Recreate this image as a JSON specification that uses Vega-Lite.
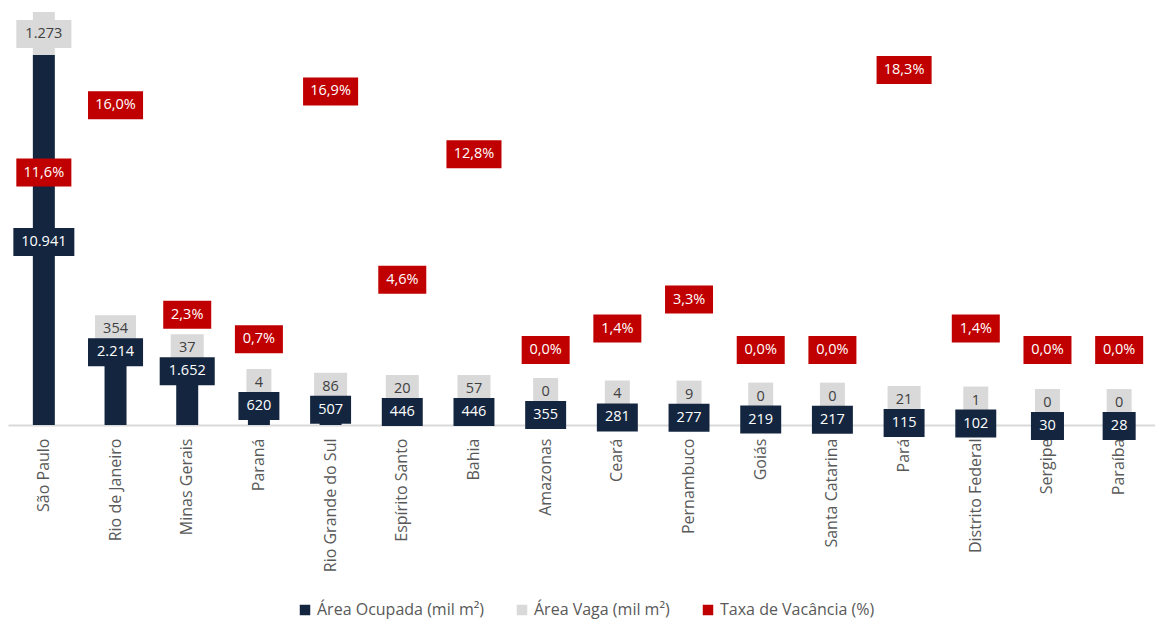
{
  "$schema": "https://vega.github.io/schema/vega-lite/v6.json",
  "width": 1147,
  "height": 420,
  "padding": {"left": 8, "top": 5, "right": 0, "bottom": 46},
  "background": "white",
  "config": {
    "view": {"stroke": null},
    "font": "Open Sans",
    "locale": {"number": {"decimal": ",", "thousands": ".", "grouping": [3], "currency": ["R$", ""]}}
  },
  "data": {
    "values": [
      {"estado": "São Paulo", "ocupada": 10941, "vaga": 1273, "taxa": 0.116},
      {"estado": "Rio de Janeiro", "ocupada": 2214, "vaga": 354, "taxa": 0.160},
      {"estado": "Minas Gerais", "ocupada": 1652, "vaga": 37, "taxa": 0.023},
      {"estado": "Paraná", "ocupada": 620, "vaga": 4, "taxa": 0.007},
      {"estado": "Rio Grande do Sul", "ocupada": 507, "vaga": 86, "taxa": 0.169},
      {"estado": "Espírito Santo", "ocupada": 446, "vaga": 20, "taxa": 0.046},
      {"estado": "Bahia", "ocupada": 446, "vaga": 57, "taxa": 0.128},
      {"estado": "Amazonas", "ocupada": 355, "vaga": 0, "taxa": 0.0},
      {"estado": "Ceará", "ocupada": 281, "vaga": 4, "taxa": 0.014},
      {"estado": "Pernambuco", "ocupada": 277, "vaga": 9, "taxa": 0.033},
      {"estado": "Goiás", "ocupada": 219, "vaga": 0, "taxa": 0.0},
      {"estado": "Santa Catarina", "ocupada": 217, "vaga": 0, "taxa": 0.0},
      {"estado": "Pará", "ocupada": 115, "vaga": 21, "taxa": 0.183},
      {"estado": "Distrito Federal", "ocupada": 102, "vaga": 1, "taxa": 0.014},
      {"estado": "Sergipe", "ocupada": 30, "vaga": 0, "taxa": 0.0},
      {"estado": "Paraíba", "ocupada": 28, "vaga": 0, "taxa": 0.0}
    ]
  },
  "transform": [
    {"calculate": "length(format(datum.ocupada, ',.0f'))", "as": "nO"},
    {"calculate": "length(format(datum.vaga, ',.0f'))", "as": "nV"},
    {"calculate": "length(format(datum.taxa, '.1%'))", "as": "nT"},
    {"calculate": "datum.ocupada > 5000 ? datum.ocupada / 2 : datum.ocupada", "as": "yO"}
  ],
  "encoding": {
    "x": {
      "field": "estado",
      "type": "nominal",
      "sort": null,
      "scale": {"paddingInner": 0, "paddingOuter": 0},
      "axis": {
        "title": null,
        "labelAngle": -90,
        "labelFont": "Open Sans",
        "labelFontSize": 16,
        "labelColor": "#595959",
        "labelPadding": 13,
        "ticks": false,
        "domainColor": "#D9D9D9",
        "domainWidth": 2,
        "grid": false
      }
    }
  },
  "layer": [
    {
      "transform": [{"fold": ["ocupada", "vaga"], "as": ["serie", "valor"]}],
      "mark": {"type": "bar", "width": 22},
      "encoding": {
        "y": {"field": "valor", "type": "quantitative", "stack": "zero", "scale": {"domain": [0, 12420], "nice": false, "zero": false}, "axis": null},
        "order": {"field": "serie", "type": "nominal"},
        "color": {
          "field": "serie",
          "type": "nominal",
          "scale": {"domain": ["ocupada", "vaga", "taxa"], "range": ["#14263F", "#D9D9D9", "#C00000"]},
          "legend": {
            "title": null,
            "orient": "none",
            "direction": "horizontal",
            "legendX": 289,
            "legendY": 597,
            "symbolType": "square",
            "symbolSize": 110,
            "symbolStrokeWidth": 0,
            "labelFont": "Open Sans",
            "labelFontSize": 16,
            "labelColor": "#595959",
            "labelOffset": 4,
            "columnPadding": 30,
            "labelLimit": 300,
            "labelExpr": "datum.label == 'ocupada' ? 'Área Ocupada (mil m²)' : datum.label == 'vaga' ? 'Área Vaga (mil m²)' : 'Taxa de Vacância (%)'"
          }
        }
      }
    },
    {
      "mark": {"type": "point", "filled": true, "fill": "#D9D9D9", "opacity": 1, "strokeWidth": 0, "size": 4096, "yOffset": -21},
      "encoding": {
        "y": {"field": "ocupada", "type": "quantitative", "scale": {"domain": [0, 12420], "nice": false, "zero": false}, "axis": null},
        "shape": {"field": "nV", "type": "ordinal", "legend": null,
          "scale": {"domain": [1, 2, 3, 4, 5, 6], "range": [
            "M-0.39,-0.4375H0.39V0.4375H-0.39Z",
            "M-0.516,-0.4375H0.516V0.4375H-0.516Z",
            "M-0.64,-0.4375H0.64V0.4375H-0.64Z",
            "M-0.75,-0.4375H0.75V0.4375H-0.75Z",
            "M-0.86,-0.4375H0.86V0.4375H-0.86Z",
            "M-0.953,-0.4375H0.953V0.4375H-0.953Z"]}}
      }
    },
    {
      "mark": {"type": "text", "color": "#404040", "font": "Open Sans", "fontSize": 14.5, "baseline": "middle", "align": "center", "yOffset": -21},
      "encoding": {
        "y": {"field": "ocupada", "type": "quantitative", "scale": {"domain": [0, 12420], "nice": false, "zero": false}, "axis": null},
        "text": {"field": "vaga", "type": "quantitative", "format": ",.0f"}
      }
    },
    {
      "mark": {"type": "point", "filled": true, "fill": "#14263F", "opacity": 1, "strokeWidth": 0, "size": 4096, "yOffset": 2},
      "encoding": {
        "y": {"field": "yO", "type": "quantitative", "scale": {"domain": [0, 12420], "nice": false, "zero": false}, "axis": null},
        "shape": {"field": "nO", "type": "ordinal", "legend": null,
          "scale": {"domain": [1, 2, 3, 4, 5, 6], "range": [
            "M-0.39,-0.4375H0.39V0.4375H-0.39Z",
            "M-0.516,-0.4375H0.516V0.4375H-0.516Z",
            "M-0.64,-0.4375H0.64V0.4375H-0.64Z",
            "M-0.75,-0.4375H0.75V0.4375H-0.75Z",
            "M-0.86,-0.4375H0.86V0.4375H-0.86Z",
            "M-0.953,-0.4375H0.953V0.4375H-0.953Z"]}}
      }
    },
    {
      "mark": {"type": "text", "color": "white", "font": "Open Sans", "fontSize": 14.5, "baseline": "middle", "align": "center", "yOffset": 2},
      "encoding": {
        "y": {"field": "yO", "type": "quantitative", "scale": {"domain": [0, 12420], "nice": false, "zero": false}, "axis": null},
        "text": {"field": "ocupada", "type": "quantitative", "format": ",.0f"}
      }
    },
    {
      "mark": {"type": "point", "filled": true, "fill": "#C00000", "opacity": 1, "strokeWidth": 0, "size": 4096},
      "encoding": {
        "y": {"field": "taxa", "type": "quantitative", "scale": {"domain": [-0.049, 0.2255], "nice": false, "zero": false}, "axis": null},
        "shape": {"field": "nT", "type": "ordinal", "legend": null,
          "scale": {"domain": [1, 2, 3, 4, 5, 6], "range": [
            "M-0.39,-0.4375H0.39V0.4375H-0.39Z",
            "M-0.516,-0.4375H0.516V0.4375H-0.516Z",
            "M-0.64,-0.4375H0.64V0.4375H-0.64Z",
            "M-0.75,-0.4375H0.75V0.4375H-0.75Z",
            "M-0.86,-0.4375H0.86V0.4375H-0.86Z",
            "M-0.953,-0.4375H0.953V0.4375H-0.953Z"]}}
      }
    },
    {
      "mark": {"type": "text", "color": "white", "font": "Open Sans", "fontSize": 14.5, "baseline": "middle", "align": "center"},
      "encoding": {
        "y": {"field": "taxa", "type": "quantitative", "scale": {"domain": [-0.049, 0.2255], "nice": false, "zero": false}, "axis": null},
        "text": {"field": "taxa", "type": "quantitative", "format": ".1%"}
      }
    }
  ],
  "resolve": {"scale": {"y": "independent"}}
}
